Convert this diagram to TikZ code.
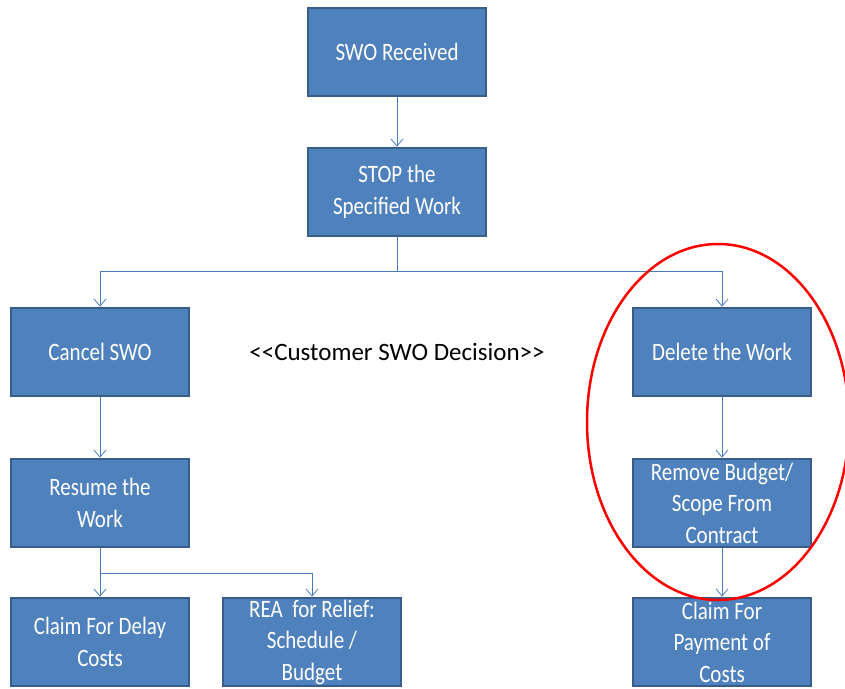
\documentclass[tikz,border=0pt]{standalone}
\usepackage{fontspec}
\setmainfont{Carlito}
\newfontfamily\taskfont{Carlito}[FakeStretch=0.84]
\usetikzlibrary{arrows.meta,positioning}

\definecolor{taskfill}{HTML}{4F81BD}
\definecolor{taskedge}{HTML}{385D8A}
\definecolor{linkblue}{HTML}{4A7EBB}

\begin{document}
\begin{tikzpicture}[x=1pt, y=-1pt, >={Straight Barb[length=7pt,width=12pt]},
	task/.style={rectangle, draw=taskedge, line width=2.8pt, fill=taskfill, text=white,
		minimum width=178pt, minimum height=88pt, inner sep=0pt, align=center,
		font=\taskfont\fontsize{25}{31.5}\selectfont},
	link/.style={->, draw=linkblue, line width=0.8pt}]
	\useasboundingbox (0,0) rectangle (845,688);

	% Nodes {swo, stop, cancel, delete, etc}
	\node [task] (swo)     at (397,52)  {SWO Received};
	\node [task] (stop)    at (397,192) {STOP the\\Specified Work};
	\node [task] (cancel)  at (100,352) {Cancel SWO};
	\node [task] (delete)  at (722,352) {Delete the Work};
	\node [task] (resume)  at (100,503) {Resume the\\Work};
	\node [task] (remove)  at (722,503) {Remove Budget/\\Scope From\\Contract};
	\node [task] (delay)   at (100,642) {Claim For Delay\\Costs};
	\node [task] (rea)     at (312,642) {REA\ \ for Relief:\\Schedule /\\Budget};
	\node [task] (payment) at (722,642) {Claim For\\Payment of\\Costs};
	\node [font=\fontsize{25}{30}\selectfont] (decision) at (397,352)
		{<\kern0pt<Customer SWO Decision>\kern0pt>};

	% Split points
	\coordinate (split1) at (397,271);
	\coordinate (split2) at (100,573);

	% Paths
	\draw [link] (swo) -- (stop);
	\draw [draw=linkblue, line width=0.8pt] (stop) -- (split1);
	\draw [link] (split1) -| (cancel);
	\draw [link] (split1) -| (delete);
	\draw [link] (cancel) -- (resume);
	\draw [draw=linkblue, line width=0.8pt] (resume) -- (split2);
	\draw [link] (split2) -- (delay);
	\draw [link] (split2) -| (rea);
	\draw [link] (delete) -- (remove);
	\draw [link] (remove) -- (payment);

	% Red ring round the delete branch
	\draw [red, line width=2.5pt] (718,422) ellipse [x radius=131, y radius=178];
\end{tikzpicture}
\end{document}
